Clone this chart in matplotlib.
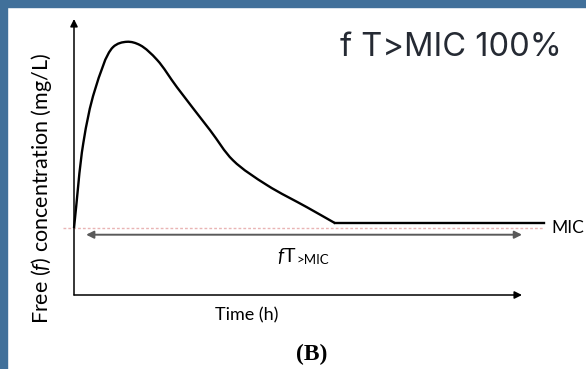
import numpy as np
import matplotlib.pyplot as plt
from matplotlib.patches import Rectangle, PathPatch
from matplotlib.path import Path

# concentration-time profile (time in h, free conc in mg/L)
time_h = [0, 0.5, 1.12, 2.09, 2.84, 3.54, 4.45, 5.52, 7.29, 8.52, 10.34, 12.48, 14.0]
conc = [1.0, 2.27, 3.06, 3.70, 3.78, 3.73, 3.51, 3.10, 2.46, 2.01, 1.64, 1.31, 1.07]
plateau_t = [14.0, 25.2]
plateau_c = [1.07, 1.07]
mic = 1.0
mic_span = [-0.6, 25.2]
t_above = [0.65, 24.0]
t_max = 24.0
c_max = 4.12

plt.rcParams['mathtext.fontset'] = 'custom'
plt.rcParams['mathtext.rm'] = 'Lato'
plt.rcParams['mathtext.it'] = 'Lato:italic'


def smooth_path(xs, ys, sx, sy):
    # centripetal catmull-rom through the points, as cubic bezier segments
    p = np.column_stack([np.asarray(xs) * sx, np.asarray(ys) * sy])
    p = np.vstack([2 * p[0] - p[1], p, 2 * p[-1] - p[-2]])
    d = np.sqrt(np.linalg.norm(np.diff(p, axis=0), axis=1))
    verts = [p[1]]
    codes = [Path.MOVETO]
    for i in range(1, len(p) - 2):
        p0, p1, p2, p3 = p[i - 1], p[i], p[i + 1], p[i + 2]
        d0, d1, d2 = d[i - 1], d[i], d[i + 1]
        m1 = (p1 - p0) / d0 - (p2 - p0) / (d0 + d1) + (p2 - p1) / d1
        m2 = (p2 - p1) / d1 - (p3 - p1) / (d1 + d2) + (p3 - p2) / d2
        verts += [p1 + m1 * d1 / 3, p2 - m2 * d1 / 3, p2]
        codes += [Path.CURVE4] * 3
    verts = np.array(verts) / [sx, sy]
    return Path(verts, codes)


W, H = 586, 369
fig = plt.figure(figsize=(W / 100, H / 100), dpi=100)
fig.patch.set_facecolor('white')

# blue frame strips at top and left
blue = '#41709a'
fig.patches.append(Rectangle((0, 0), 7 / W, 1, transform=fig.transFigure, color=blue, zorder=0))
fig.patches.append(Rectangle((0, 1 - 7 / H), 1, 7 / H, transform=fig.transFigure, color=blue, zorder=0))

ax = fig.add_axes([74 / W, (H - 295) / H, 448 / W, 276 / H])
ax.set_xlim(0, t_max)
ax.set_ylim(0, c_max)
ax.axis('off')

# axes with arrow heads
arr = dict(arrowstyle='-|>', color='black', lw=1.1, mutation_scale=11, shrinkA=0, shrinkB=0)
ax.annotate('', xy=(t_max, 0), xytext=(0, 0), arrowprops=arr, annotation_clip=False)
ax.annotate('', xy=(0, c_max), xytext=(0, 0), arrowprops=arr, annotation_clip=False)

# MIC line
ax.plot(mic_span, [mic, mic], color='#e9b4b4', lw=1, ls=(0, (2, 1.5)), clip_on=False, zorder=1)

# concentration curve
ax.add_patch(PathPatch(smooth_path(time_h, conc, 448 / t_max, 276 / c_max), fill=False,
                       edgecolor='black', lw=1.7, zorder=3, clip_on=False))
ax.plot(plateau_t, plateau_c, color='black', lw=1.7, clip_on=False, zorder=3)

# time above MIC double arrow
darr = dict(arrowstyle='<|-|>', color='#5a5a5a', lw=1.4, mutation_scale=11,
            shrinkA=0, shrinkB=0)
ax.annotate('', xy=(t_above[1], 0.9), xytext=(t_above[0], 0.9), arrowprops=darr,
            annotation_clip=False)

fig.text(296 / W, 1 - 262 / H, r'$\mathit{f}$T', fontsize=14, family='Lato',
         ha='right', va='baseline')
fig.text(296 / W, 1 - 264 / H, '>MIC', fontsize=9.5, family='Lato',
         ha='left', va='baseline')
fig.text(551 / W, 1 - 228 / H, 'MIC', fontsize=12.5, family='Lato', ha='left', va='center')

fig.text(42 / W, 1 - 188 / H, 'Free ($\\mathit{f}$) concentration (mg/L)', fontsize=15.5,
         family='Lato', rotation=90, ha='center', va='center')
fig.text(247 / W, 1 - 315 / H, 'Time (h)', fontsize=13, family='Lato',
         ha='center', va='center')
fig.text(312 / W, 1 - 354 / H, '(B)', fontsize=17, family='Liberation Serif',
         weight='bold', ha='center', va='center')

fig.text(451 / W, 1 - 48 / H, 'f T>MIC 100%', fontsize=23.5, family='Inter',
         color='#252a33', ha='center', va='center')

fig.savefig('out.png', dpi=100)
